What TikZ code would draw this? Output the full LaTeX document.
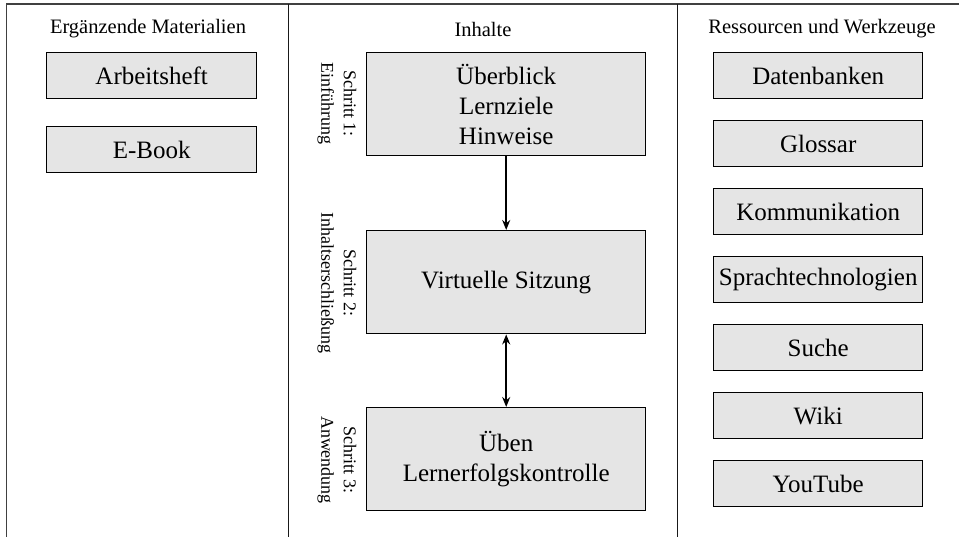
\documentclass[tikz,border=0pt]{standalone}
\usepackage{fontspec}
\setmainfont{Liberation Serif}
\usetikzlibrary{arrows.meta}
\begin{document}
\begin{tikzpicture}[x=1pt,y=-1pt,
  frame/.style={line width=1.3pt,draw=black!75},
  colhead/.style={font=\fontsize{20.5}{24}\selectfont,anchor=center},
  itembox/.style={draw=black,line width=1.4pt,fill=black!10,inner sep=0pt,
    font=\fontsize{25}{30}\selectfont,align=center,anchor=north west},
  steplabel/.style={rotate=-90,align=center,font=\fontsize{18}{22.5}\selectfont,anchor=center},
  flow/.style={line width=1.8pt,-{Stealth[length=10pt,width=8pt]}},
  flowboth/.style={line width=1.8pt,{Stealth[length=10pt,width=8pt]}-{Stealth[length=10pt,width=8pt]}}]
\useasboundingbox (0,0) rectangle (959,537);

% column frame
\draw[frame] (6.5,537) -- (6.5,4) -- (959,4);
\draw[frame,draw=black!90] (288.5,4) -- (288.5,537);
\draw[frame,draw=black!90] (677.5,4) -- (677.5,537);

% column headings
\node[colhead] (hmat) at (148,29) {Ergänzende Materialien};
\node[colhead] (hinh) at (483,29) {Inhalte};
\node[colhead] (hres) at (822,29) {Ressourcen und Werkzeuge};

% supplementary materials
\node[itembox,minimum width=210pt,minimum height=46pt] (arb) at (46,52) {Arbeitsheft};
\node[itembox,minimum width=210pt,minimum height=46pt] (ebook) at (46,126) {E-Book};

% content steps
\node[itembox,minimum width=279pt,minimum height=103pt] (s1) at (366,52) {Überblick\\Lernziele\\Hinweise};
\node[itembox,minimum width=279pt,minimum height=103pt] (s2) at (366,230) {Virtuelle Sitzung};
\node[itembox,minimum width=279pt,minimum height=103pt] (s3) at (366,407) {Üben\\Lernerfolgskontrolle};

\node[steplabel] (l1) at (337,103.5) {Schritt 1:\\Einführung};
\node[steplabel] (l2) at (337,283) {Schritt 2:\\Inhaltserschließung};
\node[steplabel] (l3) at (337,460) {Schritt 3:\\Anwendung};

\draw[flow] (s1.south) -- (s2.north);
\draw[flowboth] (s2.south) -- (s3.north);

% resources and tools
\foreach \name/\txt [count=\i from 0] in {db/Datenbanken,gl/Glossar,ko/Kommunikation,sp/Sprachtechnologien,su/Suche,wi/Wiki,yt/YouTube}{
  \node[itembox,minimum width=209pt,minimum height=46pt] (\name) at (713,52+68*\i) {\txt};
}
\end{tikzpicture}
\end{document}
